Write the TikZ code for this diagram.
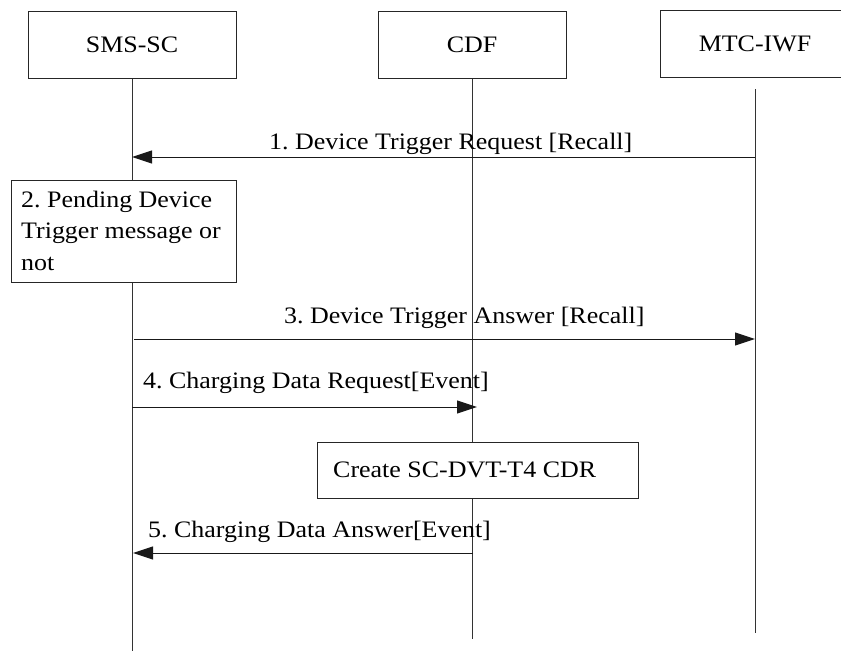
\documentclass[tikz,border=0pt]{standalone}
\usepackage{fontspec}
\setmainfont{Liberation Serif}[FakeStretch=1.1]
\usetikzlibrary{arrows.meta}
\begin{document}
\frenchspacing
\begin{tikzpicture}[x=1pt,y=-1pt,
  every node/.style={font=\fontsize{23.6}{31.5}\selectfont, inner sep=0pt},
  entity/.style={draw=black!85, line width=1pt, fill=white, minimum height=67pt},
  frame/.style={draw=black!85, line width=1pt},
  lifeline/.style={line width=1pt, draw=black!80},
  msg/.style={line width=1pt, draw=black!90, -{Triangle[length=20pt,width=13pt]}},
  lbl/.style={anchor=base west},
  procbox/.style={draw=black!85, line width=1pt, fill=white}]
\clip (0,0) rectangle (841,651);
% entities
\node[entity, minimum width=208pt] (sms) at (132,44.5) {SMS-SC};
\node[entity, minimum width=188pt] (cdf) at (472,44.5) {CDF};
\node[minimum width=188pt, minimum height=66pt] (mtc) at (755,44) {MTC-IWF};
\draw[frame] ([xshift=30pt]mtc.north east) -- (mtc.north west) -- (mtc.south west) -- ([xshift=30pt]mtc.south east);
% lifelines
\coordinate (smsEnd) at (132,651);
\coordinate (cdfEnd) at (472,639);
\coordinate (mtcTop) at (755,89);
\coordinate (mtcEnd) at (755,633);
\draw[lifeline] (sms.south) -- (smsEnd);
\draw[lifeline] (cdf.south) -- (cdfEnd);
\draw[lifeline] (mtcTop) -- (mtcEnd);
% message 1
\coordinate (m1a) at (755,157); \coordinate (m1b) at (132,157);
\draw[msg] (m1a) -- (m1b);
\node[lbl] (l1) at (269,149) {1. Device Trigger Request [Recall]};
% box 2
\node[procbox, minimum width=225pt, minimum height=102pt] (pend) at (123.5,231) {};
\node[lbl] (p1) at (21,207) {2. Pending Device};
\node[lbl] (p2) at (21,238.5) {Trigger message or};
\node[lbl] (p3) at (21,270) {not};
% message 3
\coordinate (m3a) at (134,339); \coordinate (m3b) at (755,339);
\draw[msg] (m3a) -- (m3b);
\node[lbl] (l3) at (284,323) {3. Device Trigger Answer [Recall]};
% message 4
\coordinate (m4a) at (132,407); \coordinate (m4b) at (477,407);
\draw[msg] (m4a) -- (m4b);
\node[lbl] (l4) at (143,388) {4. Charging Data Request[Event]};
% CDR box
\node[procbox, minimum width=321pt, minimum height=56pt] (cdr) at (477.5,470) {};
\node[lbl] (cdrt) at (333,477) {Create SC-DVT-T4 CDR};
% message 5
\coordinate (m5a) at (473,553); \coordinate (m5b) at (133,553);
\draw[msg] (m5a) -- (m5b);
\node[lbl] (l5) at (148,537) {5. Charging Data Answer[Event]};
\end{tikzpicture}
\end{document}
